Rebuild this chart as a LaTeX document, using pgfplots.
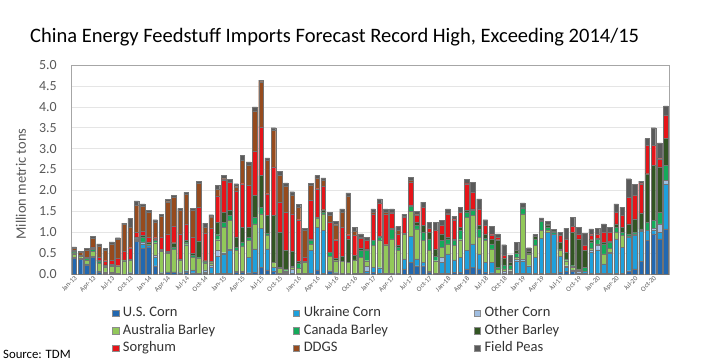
\documentclass[border=0pt]{standalone}
\usepackage{pgfplots}
\pgfplotsset{compat=1.18}
\usepackage{pgfplotstable}
\usepackage{fontspec}
\setmainfont{Carlito}
\definecolor{usc}{RGB}{34,104,176}
\definecolor{ukr}{RGB}{30,160,220}
\definecolor{oc}{RGB}{160,190,225}
\definecolor{aus}{RGB}{146,200,90}
\definecolor{can}{RGB}{20,170,90}
\definecolor{ob}{RGB}{50,85,35}
\definecolor{sor}{RGB}{230,20,25}
\definecolor{ddgs}{RGB}{150,75,30}
\definecolor{peas}{RGB}{90,90,90}
\definecolor{txt}{RGB}{89,89,89}

\pgfplotstableread{
idx us ukr oc aus can ob sor ddgs peas
0 0.38 0.02 0 0.08 0.03 0.03 0.03 0.05 0.03
1 0.35 0.03 0 0.04 0.02 0.02 0 0.06 0.03
2 0.22 0.02 0 0.10 0.03 0.03 0 0.18 0.04
3 0.40 0.02 0 0.12 0.05 0.03 0.03 0.20 0.05
4 0.05 0.02 0 0.18 0.05 0.03 0.07 0.27 0.05
5 0.02 0 0.03 0.12 0.02 0.03 0.10 0.25 0.04
6 0.02 0.02 0 0.15 0.02 0.02 0.10 0.39 0.05
7 0.01 0 0 0.17 0.02 0 0.18 0.45 0.04
8 0 0 0 0.32 0.02 0 0.20 0.65 0.03
9 0.03 0 0 0.30 0.02 0 0.28 0.50 0.20
10 0.78 0.03 0.03 0 0.02 0.03 0.10 0.66 0.10
11 0.62 0.10 0.05 0 0.12 0.03 0.10 0.60 0.06
12 0.65 0.03 0 0.02 0.02 0.05 0.12 0.58 0.05
13 0.20 0.20 0.05 0.30 0.05 0.02 0.05 0.38 0.05
14 0.03 0 0 0.52 0.02 0.02 0.30 0.49 0.05
15 0.05 0 0 0.45 0.03 0.02 0.40 0.78 0.05
16 0.05 0 0 0.55 0.05 0.10 0.40 0.68 0.05
17 0.03 0 0 0.30 0 0.03 0.60 0.56 0.05
18 0.05 0.03 0 0.62 0.05 0.05 0.40 0.70 0.05
19 0.03 0.07 0 0.30 0.05 0.05 0.38 0.64 0.05
20 0.02 0 0 0.35 0.02 0.40 0.80 0.58 0.05
21 0.02 0.03 0.05 0.15 0.02 0.05 0.65 0.15 0.10
22 0.02 0.15 0.05 0.05 0 0.03 0.80 0.27 0.05
23 0.02 0.40 0.15 0.25 0.12 0.30 0.63 0.15 0.10
24 0.02 0.46 0.03 0.60 0.12 0.25 0.77 0.03 0.08
25 0.02 0.56 0.02 0.68 0.12 0.12 0.68 0 0.07
26 0.04 0.02 0 0.50 0.08 0.25 1.10 0.10 0.07
27 0.04 0.03 0 0.60 0.10 0.35 1.04 0.56 0.12
28 0.03 0.37 0 0.40 0.08 0.24 1.00 0.48 0.08
29 0.04 0.56 0 0.60 0.16 0.52 1.06 0.96 0.10
30 0.16 0.94 0 0.34 0.16 0.76 1.16 1.08 0.04
31 0.10 0.50 0 0.32 0.05 0.43 0.52 0.80 0.06
32 0.06 0.10 0 0.12 0 1.12 1.16 0.88 0.06
33 0.02 0 0 0.12 0.02 0.84 0.72 0.64 0.10
34 0.02 0 0.02 0.04 0.04 0.44 0.92 0.62 0.08
35 0.01 0.02 0.08 0.05 0.03 0.35 0.90 0.45 0.08
36 0.02 0 0 0.12 0.12 0.04 1.00 0.30 0.06
37 0.02 0 0 0.26 0.02 0 0.10 0.65 0.04
38 0.02 0.54 0 0.16 0.08 0.04 0.92 0.36 0.05
39 0.10 1.02 0 0.22 0.02 0 0.68 0.26 0.06
40 0.02 1.02 0 0.40 0.04 0.06 0.56 0.14 0.06
41 0.08 0 0 0.34 0.10 0 0.72 0.16 0.07
42 0.03 0 0 0.29 0 0.06 0.44 0.36 0.08
43 0.02 0 0 0.28 0 0.12 0.70 0.36 0.08
44 0.02 0 0 0.26 0 0.56 0.10 0.92 0.08
45 0.02 0 0 0.32 0 0.10 0.48 0.10 0.10
46 0.02 0 0 0.38 0.16 0.06 0.24 0.02 0.08
47 0.02 0.04 0.12 0.14 0.24 0.04 0.20 0 0.08
48 0.04 0.12 0 0.52 0.12 0 0.64 0.04 0.08
49 0.02 0.13 0 0.65 0.08 0.02 0.80 0 0.10
50 0.02 0 0 0.66 0.02 0 0.74 0.04 0.08
51 0.02 0 0 0.82 0.24 0.02 0.36 0.02 0.08
52 0.02 0 0 0.54 0.08 0.04 0.28 0.08 0.10
53 0.12 0.24 0 0.60 0.02 0 0.38 0.02 0.05
54 0.28 0.62 0 0.60 0.12 0.02 0.56 0.04 0.08
55 0.20 0.16 0 0.72 0.08 0.08 0.16 0.02 0.08
56 0.20 0.08 0 0.52 0.20 0.16 0.44 0 0.12
57 0.04 0.02 0 0.50 0.28 0.16 0.10 0 0.14
58 0.02 0 0 0.30 0.10 0.18 0.44 0 0.20
59 0.02 0.26 0.12 0.24 0.16 0.16 0.20 0 0.12
60 0.02 0.46 0 0.24 0.12 0.04 0.56 0.02 0.10
61 0.04 0.30 0 0.34 0.12 0.04 0.46 0 0.08
62 0.04 0.36 0 0.42 0.22 0.08 0.36 0 0.12
63 0.12 0.44 0 0.80 0.12 0.04 0.64 0.02 0.08
64 0.16 0.56 0 0.68 0.12 0.04 0.40 0 0.24
65 0.12 0.36 0 0.40 0.20 0.08 0.40 0 0.24
66 0.04 0.24 0 0.52 0.06 0.10 0.20 0 0.14
67 0.03 0.25 0 0.32 0.12 0.12 0.10 0 0.20
68 0.02 0 0 0.10 0.04 0.66 0.06 0 0.08
69 0.02 0 0.04 0.06 0.10 0.16 0.06 0 0.26
70 0.02 0.02 0.04 0.04 0.10 0.06 0 0 0.18
71 0.02 0.30 0.04 0.04 0.10 0.06 0 0 0.20
72 0.02 0.30 0.04 1.08 0.14 0.02 0 0 0.10
73 0.02 0.18 0 0.28 0.02 0.05 0 0 0.08
74 0.02 0.38 0 0.28 0.16 0.06 0 0 0.05
75 0.02 0.84 0 0.18 0.22 0.02 0 0 0.06
76 0.02 0.98 0 0.04 0.08 0.06 0 0 0.08
77 0.02 0.94 0 0 0.05 0.02 0 0 0.04
78 0.04 0.38 0 0.14 0.04 0.16 0.16 0 0.07
79 0.06 0.10 0.04 0.12 0.04 0.16 0.32 0 0.26
80 0.06 0.04 0 0.06 0.04 0.80 0.14 0 0.21
81 0.02 0 0.04 0.04 0.02 0.72 0.12 0 0.16
82 0.02 0.04 0 0 0.10 0.40 0.12 0 0.30
83 0.02 0.50 0.06 0.04 0.14 0.06 0.12 0 0.14
84 0.02 0.56 0.10 0.04 0.12 0.02 0.10 0 0.14
85 0.02 0.22 0 0.24 0.24 0.04 0.24 0 0.20
86 0.02 0.48 0.02 0.10 0.14 0.02 0.22 0 0.12
87 0.02 0.82 0 0.16 0.12 0.08 0.28 0 0.20
88 0.02 0.62 0 0.28 0.08 0.12 0.28 0 0.20
89 0.08 0.80 0 0.02 0.06 0.24 0.64 0 0.44
90 0.12 0.80 0.04 0 0.04 0.32 0.56 0 0.26
91 0.30 0.72 0.02 0 0.04 0.38 0.70 0 0.06
92 0.80 0.24 0 0 0.20 1.16 0.68 0 0.16
93 0.96 0.08 0.06 0 0.18 1.32 0.48 0 0.42
94 0.84 0.16 0.20 0 0.28 1.08 0.20 0 0.38
95 1.08 1.08 0.08 0 0.36 0.64 0.56 0 0.22
}\data

\pgfplotsset{
  legimg/.style={legend image code/.code={\draw[##1,draw=black!45,line width=0.3bp] (0bp,-3.2bp) rectangle (6.5bp,3.2bp); \path (0bp,0bp) (9.5bp,0bp);}},
  seg/.style={fill=#1, draw=black!55, line width=0.25bp, legimg},
}
\newcommand{\legtxt}[1]{\makebox[169bp][l]{#1}}

\begin{document}
\begin{tikzpicture}
\begin{axis}[
  at={(0,0)}, anchor=south west,
  scale only axis, width=598bp, height=209bp,
  ybar stacked, bar width=4.6bp,
  xmin=-0.5, xmax=95.5, ymin=0, ymax=5,
  ytick={0,0.5,1,1.5,2,2.5,3,3.5,4,4.5,5},
  yticklabel style={font=\fontsize{14}{16}\selectfont, color=txt, inner sep=0pt, anchor=east, xshift=-14bp,
    /pgf/number format/.cd, fixed, fixed zerofill, precision=1},
  /pgf/number format/assume math mode=true,
  xtick={0,3,...,93},
  xticklabels={Jan-13,Apr-13,Jul-13,Oct-13,Jan-14,Apr-14,Jul-14,Oct-14,Jan-15,Apr-15,Jul-15,Oct-15,Jan-16,Apr-16,Jul-16,Oct-16,Jan-17,Apr-17,Jul-17,Oct-17,Jan-18,Apr-18,Jul-18,Oct-18,Jan-19,Apr-19,Jul-19,Oct-19,Jan-20,Apr-20,Jul-20,Oct-20},
  xticklabel style={rotate=45, anchor=north east, font=\fontsize{7}{8}\selectfont, color=txt, inner sep=1bp},
  major tick length=0pt,
  ymajorgrids, grid style={color=black!10, line width=0.6bp},
  axis line style={color=black!35, line width=0.6bp},
  ylabel={Million metric tons},
  ylabel style={at={(axis description cs:-0.0836,0.43)}, anchor=center, font=\fontsize{14.5}{16}\selectfont, color=txt},
  legend columns=3,
  legend style={at={(0.0686,-0.1447)}, anchor=north west, draw=none, fill=none,
    inner sep=0pt, column sep=0pt, row sep=0pt,
    nodes={inner xsep=1bp, inner ysep=1.75bp, text height=10.5bp, text depth=3.5bp},
    font=\fontsize{14.6}{16}\selectfont, text=black!80},
  legend cell align=left,
]
\addplot[seg=usc] table[x=idx,y=us] {\data};
\addplot[seg=ukr] table[x=idx,y=ukr] {\data};
\addplot[seg=oc] table[x=idx,y=oc] {\data};
\addplot[seg=aus] table[x=idx,y=aus] {\data};
\addplot[seg=can] table[x=idx,y=can] {\data};
\addplot[seg=ob] table[x=idx,y=ob] {\data};
\addplot[seg=sor] table[x=idx,y=sor] {\data};
\addplot[seg=ddgs] table[x=idx,y=ddgs] {\data};
\addplot[seg=peas] table[x=idx,y=peas] {\data};
\legend{\legtxt{U.S. Corn},\legtxt{Ukraine Corn},\legtxt{Other Corn},\legtxt{Australia Barley},\legtxt{Canada Barley},\legtxt{Other Barley},\legtxt{Sorghum},\legtxt{DDGS},\legtxt{Field Peas}}
\end{axis}
\node[anchor=base west, font=\fontsize{20.6}{24}\selectfont, inner sep=0pt] at (-41bp,231bp) {China Energy Feedstuff Imports Forecast Record High, Exceeding 2014/15};
\node[anchor=west, font=\fontsize{12.8}{14}\selectfont, inner sep=0pt] at (-68bp,-80bp) {Source: TDM};
\pgfresetboundingbox
\path[use as bounding box] (-71bp,-88bp) rectangle (630bp,274bp);
\end{tikzpicture}
\end{document}
